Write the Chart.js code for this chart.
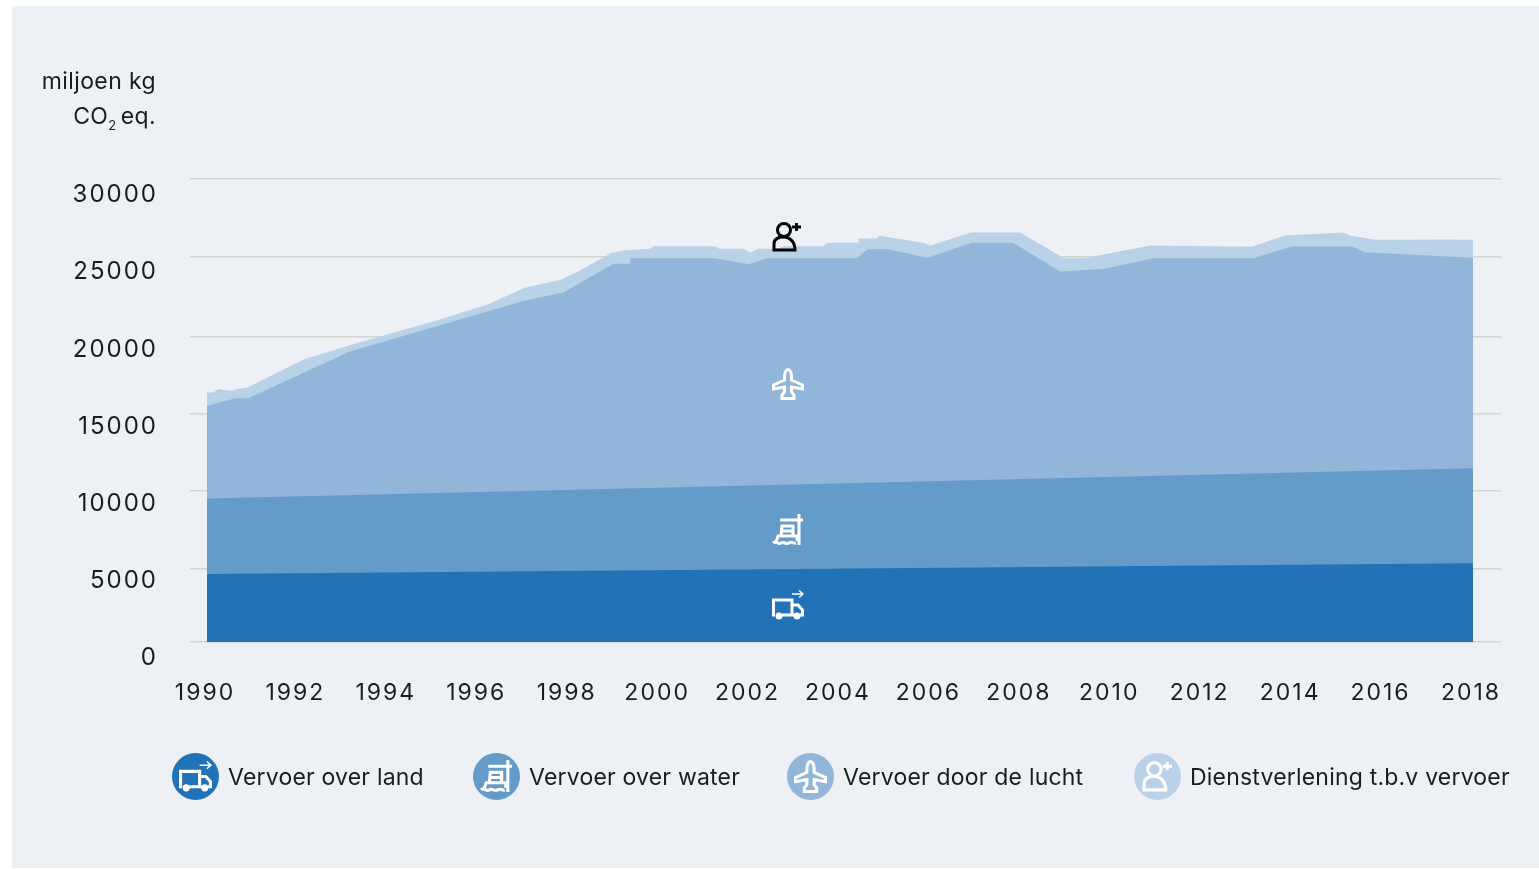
<!DOCTYPE html>
<html lang="nl">
<head>
<meta charset="UTF-8">
<title>Uitstoot vervoer</title>
<script src="https://cdn.jsdelivr.net/npm/chart.js"></script>
<style>
    body { margin: 0; background: #fff; font-family: Inter, sans-serif; color: #1c1c1c; }
    #panel { position: absolute; left: 12px; top: 6px; width: 1527px; height: 862px; background: #edf0f5; }
    #chart { position: absolute; left: 0; top: 0; }
    .unit { position: absolute; right: 1383px; font-size: 23px; line-height: 26px; letter-spacing: 0.4px; white-space: nowrap; }
    .unit sub { font-size: 13px; line-height: 0; margin-right: 4px; }
    .legend-item { position: absolute; top: 753px; height: 47px; display: flex; align-items: center; font-size: 23px; letter-spacing: 0.2px; white-space: nowrap; }
    .dot { width: 47px; height: 47px; border-radius: 50%; margin-right: 9px; display: flex; align-items: center; justify-content: center; }
    .dot svg { width: 33px; height: 33px; }
    .mark { position: absolute; width: 32px; height: 32px; }
    svg { fill: none; stroke: #fff; stroke-width: 3; }
</style>
</head>
<body>
<svg width="0" height="0" style="position:absolute">
    <symbol id="truck" viewBox="0 0 32 32">
        <path d="M3 26H1.500V11H20V26H10M20 16H26L30.500 21V26H28M20 26H22"/>
        <circle cx="7" cy="27" r="2" fill="currentColor"/>
        <circle cx="25" cy="27" r="2" fill="currentColor"/>
        <path d="M20 5H31M27 1.500L31 5L27 8.500" stroke-width="1.400"/>
    </symbol>
    <symbol id="ship" viewBox="0 0 32 32">
        <path d="M8 6H31M27 0V31M9 22L10 12H21V22M5 22H25V27M6 22L4 28M9 17H21"/>
        <path d="M1 29C4 26 6 31 9 29C12 27 14 31 17 29C20 27 22 30 24 29"/>
    </symbol>
    <symbol id="plane" viewBox="0 0 32 32">
        <path d="M16 1.500C18 1.500 19.500 5 19.500 8V12L30.500 17V21L19.500 19V24L22 27V30.500H10V27L12.500 24V19L1.500 21V17L12.500 12V8C12.500 5 14 1.500 16 1.500Z"/>
    </symbol>
    <symbol id="person" viewBox="0 0 32 32">
        <circle cx="13" cy="9" r="6.500"/>
        <path d="M3 29V23C3 18 7 16 13 16C19 16 24 21 24 29Z"/>
        <path d="M21 6H30M25.500 2V10" stroke-width="2.800"/>
    </symbol>
</svg>

<div id="panel"></div>
<canvas id="chart" width="1539" height="869"></canvas>

<div class="unit" style="top:68px;">miljoen kg</div>
<div class="unit" style="top:103px;">CO<sub>2</sub>eq.</div>

<svg class="mark" style="left:771px;top:221px;color:#000;stroke:#000;"><use href="#person"/></svg>
<svg class="mark" style="left:772px;top:368px;color:#fff;"><use href="#plane"/></svg>
<svg class="mark" style="left:772px;top:514px;color:#fff;"><use href="#ship"/></svg>
<svg class="mark" style="left:772px;top:589px;color:#fff;"><use href="#truck"/></svg>

<div class="legend-item" style="left:172px;"><span class="dot" style="background:#2272b7;color:#fff;"><svg><use href="#truck"/></svg></span>Vervoer over land</div>
<div class="legend-item" style="left:473px;"><span class="dot" style="background:#659bc9;color:#fff;"><svg><use href="#ship"/></svg></span>Vervoer over water</div>
<div class="legend-item" style="left:787px;"><span class="dot" style="background:#91b6da;color:#fff;"><svg><use href="#plane"/></svg></span>Vervoer door de lucht</div>
<div class="legend-item" style="left:1134px;"><span class="dot" style="background:#bad2e8;color:#fff;"><svg><use href="#person"/></svg></span>Dienstverlening t.b.v vervoer</div>

<script>
    // Top edge of every band, in miljoen kg CO2 eq. (cumulative, as drawn)
    const landYears = [1990, 2018];
    const landTop = [4400, 5110];

    const waterYears = [1990, 2018];
    const waterTop = [9290, 11260];

    const airYears = [1990, 1990.62, 1990.91, 1993.16, 1997, 1997.88, 1998.99, 1999.36, 1999.36, 2001.24, 2001.99, 2002.38,
        2004.38, 2004.61, 2005.07, 2005.94, 2006.91, 2007.83, 2008.87, 2009.86, 2010.93, 2013.14, 2013.99, 2015.32, 2015.61, 2018];
    const airTop = [15290, 15790, 15790, 18830, 22090, 22650, 24510, 24510, 24870, 24870, 24480, 24870,
        24870, 25450, 25450, 24900, 25870, 25870, 24010, 24190, 24870, 24870, 25630, 25630, 25260, 24900];

    const serviceYears = [1990, 1990.14, 1990.25, 1990.55, 1990.67, 1990.88, 1992.15, 1993.16, 1993.83, 1995.15, 1996.19, 1997.03,
        1997.81, 1998.18, 1998.94, 1999.21, 1999.8, 1999.89, 2001.24, 2001.33, 2001.86, 2002.01, 2002.19, 2002.63, 2002.76, 2003.63,
        2003.72, 2004.41, 2004.41, 2004.81, 2004.87, 2005.84, 2005.99, 2006.89, 2007.98, 2008.96, 2009.42, 2009.71, 2010.86, 2013.11,
        2013.84, 2015.13, 2015.28, 2015.83, 2017.45, 2018];
    const serviceTop = [16160, 16160, 16390, 16260, 16390, 16480, 18320, 19220, 19800, 20900, 21860, 22960,
        23470, 23950, 25200, 25370, 25480, 25650, 25650, 25480, 25480, 25240, 25480, 25480, 25650, 25650,
        25870, 25870, 26150, 26150, 26320, 25870, 25670, 26530, 26530, 24870, 24870, 25050, 25690, 25610,
        26340, 26530, 26340, 26060, 26080, 26060];

    const yearTicks = [1990, 1992, 1994, 1996, 1998, 2000, 2002, 2004, 2006, 2008, 2010, 2012, 2014, 2016, 2018];
    const gridLines = [0, 4757, 9773, 14788, 19804, 24982, 30000];

    const toPoints = (xs, ys) => xs.map((x, i) => ({ x: x, y: ys[i] }));
    const textColor = '#1c1c1c';

    function band(label, xs, ys, color) {
        return {
            label: label,
            data: toPoints(xs, ys),
            backgroundColor: color,
            borderWidth: 0,
            pointRadius: 0,
            tension: 0,
            fill: 'origin'
        };
    }

    // chart.js has no letter spacing option, set it on the context
    const spacedText = {
        id: 'spacedText',
        beforeDraw(chart) {
            chart.ctx.letterSpacing = '2px';
        }
    };

    new Chart(document.getElementById('chart'), {
        type: 'line',
        data: {
            datasets: [
                band('Vervoer over land', landYears, landTop, '#2272b7'),
                band('Vervoer over water', waterYears, waterTop, '#659bc9'),
                band('Vervoer door de lucht', airYears, airTop, '#91b6da'),
                band('Dienstverlening t.b.v vervoer', serviceYears, serviceTop, '#bad2e8')
            ]
        },
        plugins: [spacedText],
        options: {
            responsive: false,
            animation: false,
            layout: { padding: { top: 179, right: 38, bottom: 127, left: 0 } },
            plugins: { legend: { display: false }, tooltip: { enabled: false } },
            scales: {
                x: {
                    type: 'linear',
                    min: 1989.624,
                    max: 2018.62,
                    grid: { display: false },
                    border: { display: false },
                    afterBuildTicks(scale) {
                        scale.ticks = yearTicks.map(v => ({ value: v }));
                    },
                    afterFit(scale) {
                        scale.height = 100;
                    },
                    ticks: {
                        autoSkip: false,
                        maxRotation: 0,
                        padding: 29,
                        labelOffset: -2,
                        color: textColor,
                        font: { family: 'Inter', size: 23 },
                        callback: v => String(v)
                    }
                },
                // grid lines only, the labels sit on the axis below
                y: {
                    min: 0,
                    max: 30000,
                    position: 'left',
                    border: { display: false },
                    grid: { color: '#d5d5d0', lineWidth: 1.5, drawTicks: false },
                    afterBuildTicks(scale) {
                        scale.ticks = gridLines.map(v => ({ value: v }));
                    },
                    afterFit(scale) {
                        scale.width = 0;
                    },
                    ticks: { display: false, autoSkip: false }
                },
                yLabels: {
                    min: 0,
                    max: 30000,
                    position: 'left',
                    border: { display: false },
                    grid: { display: false, drawTicks: false },
                    afterFit(scale) {
                        scale.width = 190;
                    },
                    ticks: {
                        stepSize: 5000,
                        padding: 32,
                        labelOffset: 16,
                        color: textColor,
                        font: { family: 'Inter', size: 24 },
                        callback: v => String(v)
                    }
                }
            }
        }
    });
</script>
</body>
</html>
